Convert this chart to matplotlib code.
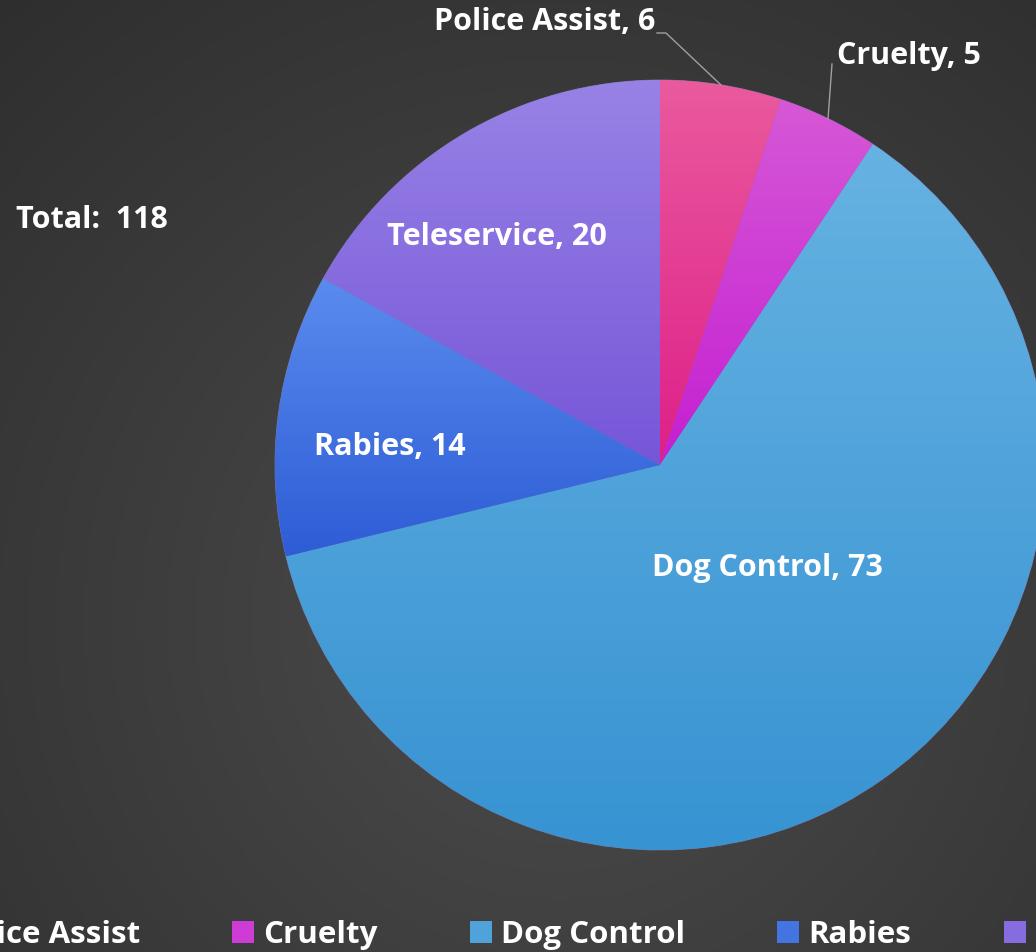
import matplotlib.pyplot as plt
import matplotlib.colors as mc
import numpy as np

categories = ['Police Assist', 'Cruelty', 'Dog Control', 'Rabies', 'Teleservice']
counts = [6, 5, 73, 14, 20]
total = 118

# gradient colours per slice (top, bottom)
top_cols = ['#ea5a9e', '#d658d6', '#66b2e2', '#5a8cee', '#9882e6']
bot_cols = ['#de1f88', '#c41fd2', '#3793d2', '#2e5cd6', '#7656d8']

W, H = 1036, 952
fig = plt.figure(figsize=(W / 100, H / 100), dpi=100)
ax = fig.add_axes([0, 0, 1, 1])

def Y(y):
    return H - y

# radial background
xx, yy = np.meshgrid(np.linspace(0, W, 300), np.linspace(0, H, 300))
d = np.clip(np.hypot(xx - 560, yy - Y(620)) / 900, 0, 1)
c0 = np.array(mc.to_rgb('#4c4c4c'))
c1 = np.array(mc.to_rgb('#2c2c2c'))
bg = c0[None, None, :] * (1 - d[..., None]) + c1[None, None, :] * d[..., None]
ax.imshow(bg, extent=[0, W, 0, H], origin='lower', zorder=0, aspect='auto')

cx, cy, r = 660, Y(465), 385
wedges, _ = ax.pie(counts, startangle=90, counterclock=False, center=(cx, cy),
                   radius=r, colors=top_cols, frame=True,
                   wedgeprops=dict(linewidth=0.6, edgecolor='#7a6fa0'))
ax.set_xlim(0, W)
ax.set_ylim(0, H)
ax.set_aspect('equal')
ax.axis('off')

for w, ct, cb in zip(wedges, top_cols, bot_cols):
    w.set_zorder(2)
    bb = w.get_path().get_extents(w.get_patch_transform())
    t = np.linspace(0, 1, 256)[:, None]
    a = np.array(mc.to_rgb(ct))
    b = np.array(mc.to_rgb(cb))
    grad = (b[None, :] * (1 - t) + a[None, :] * t)[:, None, :]
    im = ax.imshow(grad, extent=[bb.x0, bb.x1, bb.y0, bb.y1], origin='lower',
                   aspect='auto', zorder=3)
    im.set_clip_path(w)

font = dict(family=['Open Sans', 'DejaVu Sans'], fontweight='bold', color='white')
fs = 22

# inside labels
inside_xy = {'Dog Control': (767, 568), 'Rabies': (390, 447), 'Teleservice': (497, 237)}
for name, n in zip(categories, counts):
    if name in inside_xy:
        x, y = inside_xy[name]
        ax.text(x, Y(y), f'{name}, {n}', ha='center', va='center', fontsize=fs, zorder=5, **font)

# outside labels with leader lines
ax.text(655, Y(22), f'{categories[0]}, {counts[0]}', ha='right', va='center', fontsize=fs, zorder=5, **font)
ax.plot([657, 666, 721], [Y(33), Y(33), Y(85)], color='#a0a0a0', lw=1, zorder=4)
ax.text(837, Y(56), f'{categories[1]}, {counts[1]}', ha='left', va='center', fontsize=fs, zorder=5, **font)
ax.plot([832, 828], [Y(64), Y(119)], color='#a0a0a0', lw=1, zorder=4)

ax.text(16, Y(220), f'Total:  {total}', ha='left', va='center', fontsize=fs, zorder=5, **font)

leg = ax.legend(wedges, categories, loc='center', bbox_to_anchor=(562 / W, 1 - 935 / H),
                ncol=5, frameon=False, handlelength=0.7, handleheight=0.7,
                handletextpad=0.3, columnspacing=2.95,
                prop=dict(family=['Open Sans', 'DejaVu Sans'], weight='bold', size=22.5))
for t, h, ct, cb in zip(leg.get_texts(), leg.legend_handles, top_cols, bot_cols):
    t.set_color('white')
    h.set_facecolor(0.5 * np.array(mc.to_rgb(ct)) + 0.5 * np.array(mc.to_rgb(cb)))
    h.set_edgecolor('none')

fig.savefig('out.png', dpi=100)
